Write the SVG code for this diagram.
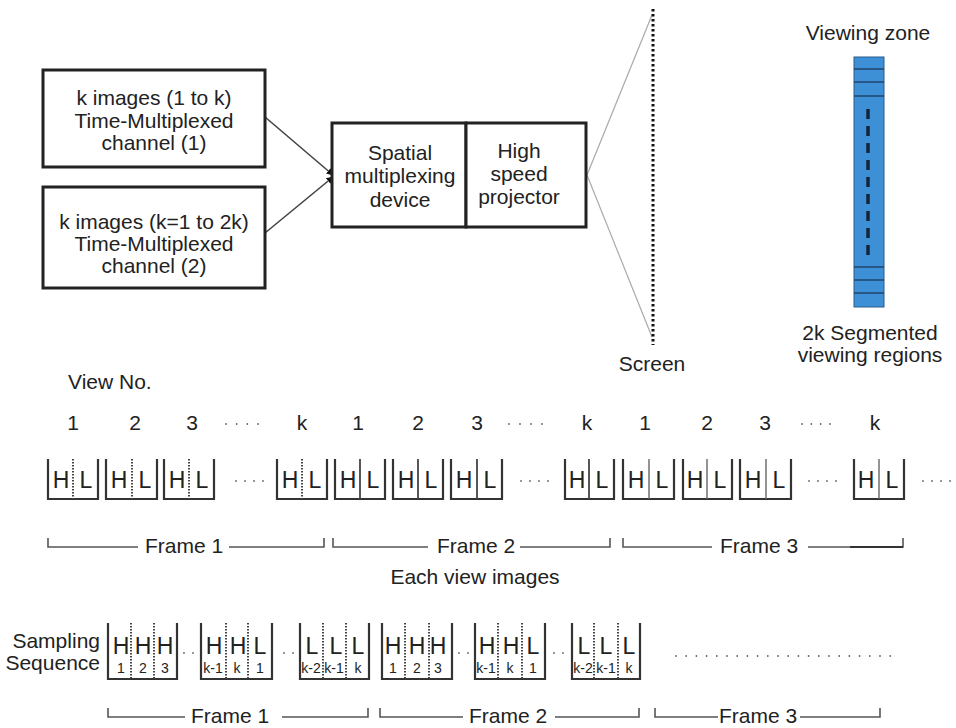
<svg xmlns="http://www.w3.org/2000/svg" width="956" height="728" viewBox="0 0 956 728">
<defs>
<marker id="ah" viewBox="0 0 10 10" refX="9" refY="5" markerWidth="7" markerHeight="7" orient="auto" markerUnits="userSpaceOnUse">
<path d="M0,0 L10,5 L0,10 z" fill="#111"/>
</marker>
<style>
text{font-family:"Liberation Sans",Arial,sans-serif;fill:#222}
.t{font-size:21px;text-anchor:middle}
.b{font-size:23px;text-anchor:middle}
.s{font-size:14px;text-anchor:middle}
.box{fill:#fff;stroke:#222;stroke-width:3}
.cell{fill:none;stroke:#333;stroke-width:2.2}
.dv{stroke:#444;stroke-width:2;stroke-dasharray:1.5 1.5}
.sd{stroke:#444;stroke-width:1.8}
.gd{stroke:#666;stroke-width:1.4}
.br{fill:none;stroke:#555;stroke-width:1.6}
.dots{stroke:#666;stroke-width:1.8;stroke-linecap:round}
</style>
</defs>
<rect width="956" height="728" fill="#fff"/>

<g id="connectors">
<line x1="265" y1="117" x2="333" y2="175" stroke="#444" stroke-width="1.6" marker-end="url(#ah)"/>
<line x1="265" y1="233" x2="333" y2="177" stroke="#444" stroke-width="1.6" marker-end="url(#ah)"/>
<line x1="587" y1="175" x2="652" y2="15" stroke="#aaa" stroke-width="1.2"/>
<line x1="587" y1="175" x2="652" y2="337" stroke="#aaa" stroke-width="1.2"/>
</g>

<g id="channel1">
<rect class="box" x="43" y="70" width="222" height="97"/>
<text class="t" x="154" y="105">k images (1 to k)</text>
<text class="t" x="154" y="128">Time-Multiplexed</text>
<text class="t" x="154" y="150">channel (1)</text>
</g>
<g id="channel2">
<rect class="box" x="43" y="187" width="222" height="101"/>
<text class="t" x="154" y="229">k images (k=1 to 2k)</text>
<text class="t" x="154" y="251">Time-Multiplexed</text>
<text class="t" x="154" y="273">channel (2)</text>
</g>
<g id="spatial">
<rect class="box" x="332" y="123" width="134" height="104"/>
<text class="t" x="400" y="160">Spatial</text>
<text class="t" x="400" y="183">multiplexing</text>
<text class="t" x="400" y="207">device</text>
</g>
<g id="projector">
<rect class="box" x="466" y="123" width="120" height="104"/>
<text class="t" x="519" y="158">High</text>
<text class="t" x="519" y="181">speed</text>
<text class="t" x="519" y="204">projector</text>
</g>

<g id="screen">
<line x1="653" y1="9" x2="653" y2="345" stroke="#111" stroke-width="3" stroke-dasharray="2.5 2.5"/>
<text class="t" x="652" y="371">Screen</text>
</g>

<g id="viewingzone">
<text class="t" x="868" y="40">Viewing zone</text>
<rect x="854" y="57" width="30" height="250" fill="#3d90d6" stroke="#2a5d8a" stroke-width="1"/>
<g stroke="#1d3f63" stroke-width="1.4">
<line x1="854" y1="69" x2="884" y2="69"/>
<line x1="854" y1="82" x2="884" y2="82"/>
<line x1="854" y1="96" x2="884" y2="96"/>
<line x1="854" y1="267" x2="884" y2="267"/>
<line x1="854" y1="280" x2="884" y2="280"/>
<line x1="854" y1="293" x2="884" y2="293"/>
</g>
<line x1="868" y1="109" x2="868" y2="260" stroke="#13253a" stroke-width="3.5" stroke-dasharray="10 7"/>
<text class="t" x="870" y="340">2k Segmented</text>
<text class="t" x="870" y="362">viewing regions</text>
</g>

<g id="viewrow">
<text x="68" y="389" style="font-size:21px">View No.</text>
<text class="t" x="73" y="430">1</text><text class="t" x="135" y="430">2</text><text class="t" x="192" y="430">3</text><text class="t" x="302" y="430">k</text>
<text class="t" x="358" y="430">1</text><text class="t" x="418" y="430">2</text><text class="t" x="477" y="430">3</text><text class="t" x="587" y="430">k</text>
<text class="t" x="645" y="430">1</text><text class="t" x="707" y="430">2</text><text class="t" x="765" y="430">3</text><text class="t" x="875" y="430">k</text>
<line class="dots" x1="226" y1="424" x2="258.8" y2="424" stroke-dasharray="0 10.67"/>
<line class="dots" x1="509" y1="424" x2="542.8" y2="424" stroke-dasharray="0 11"/>
<line class="dots" x1="802" y1="424" x2="830.8" y2="424" stroke-dasharray="0 9.33"/>
</g>

<g id="cells1">
<path class="cell" d="M48,459V499H98V459M106,459V499H157V459M164,459V499H214V459M277,459V499H327V459"/>
<line class="dv" x1="73" y1="459" x2="73" y2="499"/><line class="dv" x1="132" y1="459" x2="132" y2="499"/>
<line class="dv" x1="189" y1="459" x2="189" y2="499"/><line class="dv" x1="302" y1="459" x2="302" y2="499"/>
<path class="cell" d="M335,459V499H385V459M393,459V499H443V459M451,459V499H502V459M565,459V499H614V459"/>
<line class="sd" x1="360" y1="459" x2="360" y2="499"/><line class="sd" x1="418" y1="459" x2="418" y2="499"/>
<line class="sd" x1="477" y1="459" x2="477" y2="499"/><line class="sd" x1="589" y1="459" x2="589" y2="499"/>
<path class="cell" d="M623,459V499H674V459M683,459V499H732V459M740,459V499H791V459M854,459V499H904V459"/>
<line class="gd" x1="649" y1="459" x2="649" y2="499"/><line class="gd" x1="707" y1="459" x2="707" y2="499"/>
<line class="gd" x1="766" y1="459" x2="766" y2="499"/><line class="gd" x1="879" y1="459" x2="879" y2="499"/>
<text class="b" x="61" y="488">H</text><text class="b" x="86" y="488">L</text>
<text class="b" x="119" y="488">H</text><text class="b" x="145" y="488">L</text>
<text class="b" x="177" y="488">H</text><text class="b" x="202" y="488">L</text>
<text class="b" x="290" y="488">H</text><text class="b" x="315" y="488">L</text>
<text class="b" x="348" y="488">H</text><text class="b" x="373" y="488">L</text>
<text class="b" x="406" y="488">H</text><text class="b" x="431" y="488">L</text>
<text class="b" x="464" y="488">H</text><text class="b" x="490" y="488">L</text>
<text class="b" x="577" y="488">H</text><text class="b" x="602" y="488">L</text>
<text class="b" x="636" y="488">H</text><text class="b" x="662" y="488">L</text>
<text class="b" x="695" y="488">H</text><text class="b" x="720" y="488">L</text>
<text class="b" x="753" y="488">H</text><text class="b" x="779" y="488">L</text>
<text class="b" x="866" y="488">H</text><text class="b" x="892" y="488">L</text>
<line class="dots" x1="236" y1="481" x2="263.8" y2="481" stroke-dasharray="0 9"/>
<line class="dots" x1="521" y1="481" x2="548.8" y2="481" stroke-dasharray="0 9"/>
<line class="dots" x1="809" y1="481" x2="836.8" y2="481" stroke-dasharray="0 9"/>
<line class="dots" x1="923" y1="481" x2="950.8" y2="481" stroke-dasharray="0 9"/>
</g>

<g id="frames1">
<path class="br" d="M48,538V547H138M229,547H324V538M333,538V547H428M520,547H610V538M623,538V547H712M808,547H903V538"/>
<line x1="850" y1="547" x2="903" y2="547" stroke="#333" stroke-width="2"/>
<text class="t" x="184" y="553">Frame 1</text>
<text class="t" x="476" y="553">Frame 2</text>
<text class="t" x="759" y="553">Frame 3</text>
<text class="t" x="475" y="584">Each view images</text>
</g>

<g id="sampling">
<text x="100" y="648" style="font-size:21px;text-anchor:end">Sampling</text>
<text x="100" y="670" style="font-size:21px;text-anchor:end">Sequence</text>
<path class="cell" d="M108,623V679H177V623M201,623V679H272V623M300,623V679H369V623M382,623V679H452V623M475,623V679H545V623M572,623V679H640V623"/>
<line class="dv" x1="131" y1="623" x2="131" y2="679"/><line class="dv" x1="154" y1="623" x2="154" y2="679"/>
<line class="dv" x1="226" y1="623" x2="226" y2="679"/><line class="dv" x1="248" y1="623" x2="248" y2="679"/>
<line class="dv" x1="323" y1="623" x2="323" y2="679"/><line class="dv" x1="346" y1="623" x2="346" y2="679"/>
<line class="dv" x1="405" y1="623" x2="405" y2="679"/><line class="dv" x1="429" y1="623" x2="429" y2="679"/>
<line class="dv" x1="498" y1="623" x2="498" y2="679"/><line class="dv" x1="522" y1="623" x2="522" y2="679"/>
<line class="dv" x1="594" y1="623" x2="594" y2="679"/><line class="dv" x1="618" y1="623" x2="618" y2="679"/>
<text class="b" x="121" y="654">H</text><text class="b" x="143" y="654">H</text><text class="b" x="165" y="654">H</text>
<text class="b" x="214" y="654">H</text><text class="b" x="238" y="654">H</text><text class="b" x="260" y="654">L</text>
<text class="b" x="312" y="654">L</text><text class="b" x="336" y="654">L</text><text class="b" x="358" y="654">L</text>
<text class="b" x="393" y="654">H</text><text class="b" x="417" y="654">H</text><text class="b" x="438" y="654">H</text>
<text class="b" x="487" y="654">H</text><text class="b" x="511" y="654">H</text><text class="b" x="533" y="654">L</text>
<text class="b" x="584" y="654">L</text><text class="b" x="606" y="654">L</text><text class="b" x="629" y="654">L</text>
<text class="s" x="121" y="673">1</text><text class="s" x="143" y="673">2</text><text class="s" x="165" y="673">3</text>
<text class="s" x="213" y="673">k-1</text><text class="s" x="237" y="673">k</text><text class="s" x="260" y="673">1</text>
<text class="s" x="311" y="673">k-2</text><text class="s" x="334" y="673">k-1</text><text class="s" x="358" y="673">k</text>
<text class="s" x="393" y="673">1</text><text class="s" x="417" y="673">2</text><text class="s" x="438" y="673">3</text>
<text class="s" x="486" y="673">k-1</text><text class="s" x="510" y="673">k</text><text class="s" x="533" y="673">1</text>
<text class="s" x="583" y="673">k-2</text><text class="s" x="606" y="673">k-1</text><text class="s" x="629" y="673">k</text>
<line class="dots" x1="184" y1="653" x2="193.8" y2="653" stroke-dasharray="0 9"/>
<line class="dots" x1="284" y1="653" x2="293.8" y2="653" stroke-dasharray="0 9"/>
<line class="dots" x1="459" y1="653" x2="468.8" y2="653" stroke-dasharray="0 9"/>
<line class="dots" x1="554" y1="653" x2="563.8" y2="653" stroke-dasharray="0 9"/>
<line class="dots" x1="676" y1="656" x2="890.5" y2="656" stroke-dasharray="0 10.2"/>
</g>

<g id="frames2">
<path class="br" d="M108,708V717H185M282,717H368V708M380,708V717H463M555,717H639V708M655,708V717H718M800,717H880V708"/>
<text class="t" x="230" y="723">Frame 1</text>
<text class="t" x="508" y="723">Frame 2</text>
<text class="t" x="758" y="723">Frame 3</text>
</g>
</svg>
